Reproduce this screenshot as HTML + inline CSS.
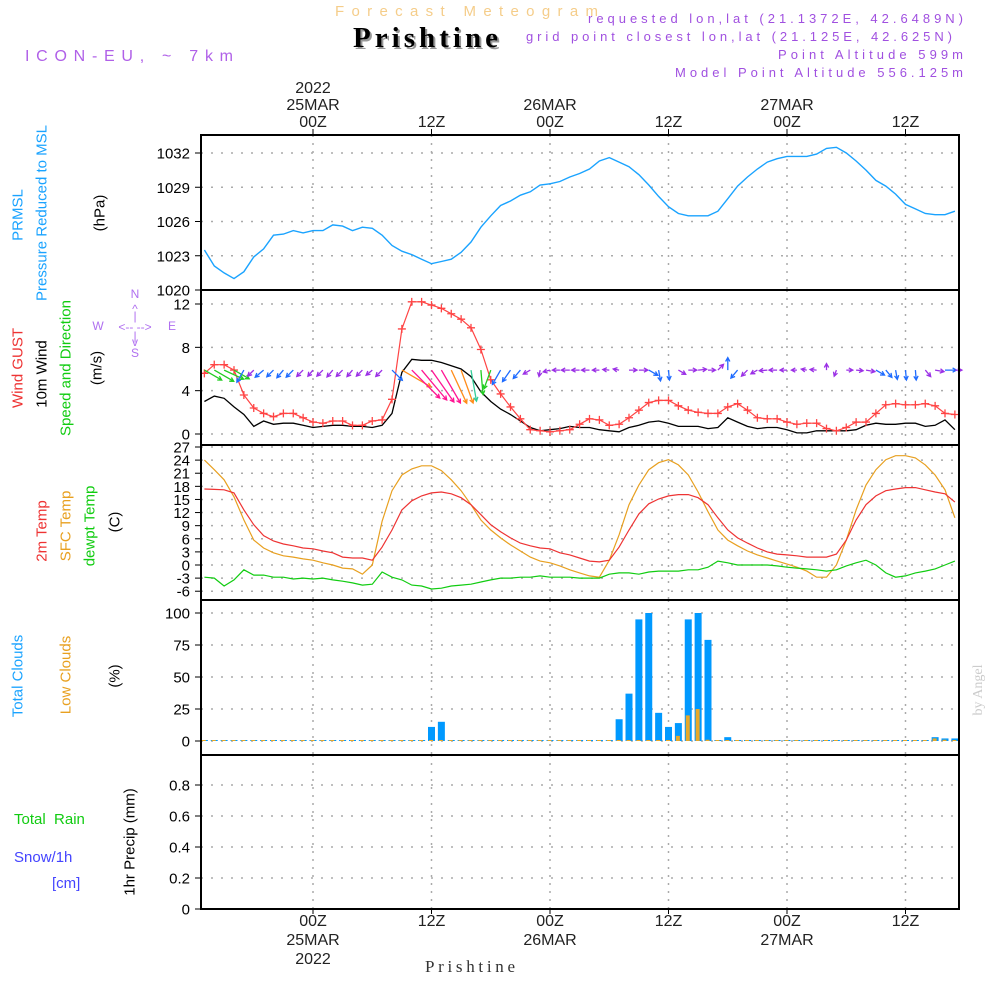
<!DOCTYPE html>
<html><head><meta charset="utf-8"><style>
html,body{margin:0;padding:0;background:#fff;}
svg{display:block;font-family:"Liberation Sans",sans-serif;}
</style></head><body>
<svg id="chart" width="1000" height="1000" viewBox="0 0 1000 1000" xmlns="http://www.w3.org/2000/svg">
<rect x="0" y="0" width="1000" height="1000" fill="#fff"/>
<text x="335" y="16" font-size="15" fill="#f5cd8a" textLength="263" lengthAdjust="spacing">Forecast Meteogram</text>
<text x="355" y="49" font-size="29" font-weight="bold" font-family="Liberation Serif, serif" fill="#999" textLength="145" lengthAdjust="spacing">Prishtine</text>
<text x="353" y="47" font-size="29" font-weight="bold" font-family="Liberation Serif, serif" fill="#000" textLength="145" lengthAdjust="spacing">Prishtine</text>
<text x="25" y="61" font-size="16" fill="#b060e8" textLength="208" lengthAdjust="spacing">ICON-EU, ~ 7km</text>
<text x="588" y="23" font-size="13" fill="#a050e0" textLength="375" lengthAdjust="spacing">requested lon,lat (21.1372E, 42.6489N)</text>
<text x="526" y="41" font-size="13" fill="#a050e0" textLength="426" lengthAdjust="spacing">grid point closest lon,lat (21.125E, 42.625N)</text>
<text x="778" y="59" font-size="13" fill="#a050e0" textLength="185" lengthAdjust="spacing">Point Altitude 599m</text>
<text x="675" y="77" font-size="13" fill="#a050e0" textLength="288" lengthAdjust="spacing">Model Point Altitude 556.125m</text>
<g id="grid"></g>
<g id="marks"></g>
<g id="frames"></g>
<g id="labels" font-size="15"></g>
<text transform="translate(982,690) rotate(-90)" text-anchor="middle" font-size="14" font-family="Liberation Serif, serif" fill="#ccc">by Angel</text>
<text x="425" y="972" font-size="17" font-family="Liberation Serif, serif" fill="#333" textLength="90" lengthAdjust="spacing">Prishtine</text>
</svg>
<script>
// ---- data (hourly, from 24MAR 13Z = hour -11 to 27MAR 17Z = hour 65) ----
const startHour = -11;
const pressure = [1023.5,1022.1,1021.5,1021,1021.6,1022.9,1023.6,1024.8,1024.9,1025.2,1025,1025.2,1025.2,1025.7,1025.6,1025.2,1025.5,1025.4,1024.8,1023.9,1023.4,1023.1,1022.7,1022.3,1022.5,1022.7,1023.3,1024.2,1025.5,1026.5,1027.4,1027.8,1028.3,1028.6,1029.2,1029.3,1029.5,1029.9,1030.2,1030.6,1031.3,1031.6,1031.2,1030.8,1030.1,1029.2,1028.2,1027.3,1026.7,1026.5,1026.5,1026.5,1026.9,1028,1029.1,1029.9,1030.6,1031.2,1031.5,1031.7,1031.7,1031.7,1031.9,1032.4,1032.5,1032,1031.3,1030.5,1029.6,1029.1,1028.4,1027.5,1027.1,1026.7,1026.6,1026.6,1026.9];
const gust = [5.6,6.4,6.4,5.9,3.6,2.4,1.9,1.6,1.9,1.9,1.5,1.1,1.0,1.2,1.2,0.8,0.8,1.2,1.3,3.2,9.7,12.2,12.2,11.9,11.6,11.1,10.6,9.8,7.8,5.0,3.7,2.5,1.4,0.4,0.3,0.2,0.3,0.4,0.9,1.4,1.3,0.8,0.9,1.5,2.2,2.9,3.1,3.1,2.6,2.2,2.0,1.9,1.9,2.5,2.8,2.2,1.5,1.4,1.4,1.1,0.9,1.0,1.0,0.5,0.3,0.6,1.1,1.1,1.9,2.7,2.8,2.7,2.7,2.8,2.6,1.9,1.8];
const wind = [3.0,3.5,3.3,2.5,1.8,0.7,1.2,0.9,1.0,1.0,0.8,0.6,0.7,0.8,0.8,0.7,0.7,0.6,0.8,1.9,5.7,6.9,6.8,6.8,6.6,6.3,6.0,5.3,3.9,3.0,2.3,1.8,1.2,0.6,0.3,0.4,0.5,0.7,0.6,0.6,0.4,0.3,0.2,0.6,0.8,1.1,1.2,1.0,0.7,0.7,0.7,0.5,0.6,1.5,1.1,0.7,0.5,0.6,0.6,0.4,0.1,0.1,0.3,0.3,0.3,0.3,0.4,0.8,1.0,0.9,0.9,1.0,1.0,0.7,0.8,1.3,0.4];
const windDir = [300,300,295,300,30,45,50,45,40,45,45,40,45,40,45,40,45,50,45,315,300,315,320,325,330,335,340,350,355,20,30,35,40,60,10,75,90,90,90,90,90,95,100,270,270,300,350,355,300,270,265,270,225,180,40,45,60,85,90,90,90,100,95,180,20,270,275,280,300,320,350,355,355,320,280,270,270];
const temp2m = [17.4,17.3,17.2,16.5,12.6,9.2,6.7,5.5,4.8,4.4,3.9,3.7,3.2,2.8,1.8,1.6,1.6,1.1,4.1,8,12.6,14.7,15.8,16.5,16.7,16.3,15.4,13.8,11.5,9.2,7.6,6.2,5,4.4,3.9,3.7,2.8,2.3,1.6,0.9,0.7,1.1,4.1,8,11.7,14,15.1,15.8,16.1,16.1,15.4,13.8,10.8,8,6.2,5,3.9,3,2.5,2.3,2.1,1.8,1.8,1.8,2.5,5.7,10.3,13.8,15.8,17,17.4,17.7,17.7,17.2,16.7,16.3,14.4];
const tempSfc = [24,21.8,19.5,15.6,10.3,5.7,3.9,2.8,2.1,1.8,1.4,1.1,0.5,0,-0.7,-0.9,-2.1,0,10,17,20.6,22,22.7,22.7,21.6,19.5,17,13.8,10.3,8,6.2,4.6,3.2,1.8,0.9,0.5,-0.2,-1.1,-1.8,-2.5,-2.8,1.1,6.9,13.8,18.3,21.8,23.4,24.1,22.9,20.6,16.7,12.2,8,5.7,4.4,3.2,2.3,1.6,0.9,0.2,-0.5,-1.4,-2.8,-2.8,0,5.7,12.6,18.3,21.8,24.1,25,25,24.5,22.9,20.6,17.2,10.8];
const dewpt = [-2.8,-3,-4.8,-3.4,-1.1,-2.3,-2.3,-2.8,-2.8,-3.2,-3,-3.2,-3,-3.4,-3.7,-4.1,-4.6,-4.4,-1.6,-2.8,-3.4,-4.6,-4.8,-5.5,-5.3,-4.8,-4.6,-4.4,-3.9,-3.4,-3,-3,-2.8,-2.8,-2.5,-2.8,-2.8,-2.8,-3,-3,-3,-2.1,-1.8,-1.8,-2.1,-1.6,-1.4,-1.4,-1.4,-1.1,-1.1,-0.5,0.9,0.5,0,0,0,0,-0.2,-0.5,-0.7,-0.9,-1.1,-1.4,-1.1,-0.2,0.5,1.1,0,-1.8,-2.8,-2.5,-1.8,-1.4,-0.9,0,0.9];
const totalClouds = [0,0,0,0,0,0,0,0,0,0,0,0,0,0,0,0,0,0,0,0,0,0,0,11,15,0,0,0,0,0,0,0,0,0,0,0,0,0,0,0,0,0,17,37,95,100,22,11,14,95,100,79,0,3,0,0,0,0,0,0,0,0,0,0,0,0,0,0,0,0,0,0,0,0,3,2,2];
const lowClouds = [0,0,0,0,0,0,0,0,0,0,0,0,0,0,0,0,0,0,0,0,0,0,0,0,0,0,0,0,0,0,0,0,0,0,0,0,0,0,0,0,0,0,0,0,0,0,0,0,4,20,25,1,0,0,0,0,0,0,0,0,0,0,0,0,0,0,0,0,0,0,0,0,0,0,2,1,0];
const precip = new Array(77).fill(0);
const pressTicks = [1020,1023,1026,1029,1032];
const windTicks = [0,4,8,12];
const tempTicks = [-6,-3,0,3,6,9,12,15,18,21,24,27];
const tempTickLabels = ["-6","-3","0","3","6","9","12","15","18","21","24","27"];
const cloudTicks = [0,25,50,75,100];
const precipTicks = [0,0.2,0.4,0.6,0.8];
const timeTicks = [0,12,24,36,48,60];
const timeTop = [["2022","25MAR","00Z"],["","","12Z"],["","26MAR","00Z"],["","","12Z"],["","27MAR","00Z"],["","","12Z"]];
const timeBottom = [["00Z","25MAR","2022"],["12Z","",""],["00Z","26MAR",""],["12Z","",""],["00Z","27MAR",""],["12Z","",""]];

// ---- scales ----
const X0=201, X1=959;
const xh = h => 313 + h*9.875;
const lin = (d0,d1,r0,r1) => v => r0 + (v-d0)*(r1-r0)/(d1-d0);
const panels = [
 {top:135,bot:290,y:lin(1020,1032,290,153)},
 {top:290,bot:445,y:lin(0,12,434,304)},
 {top:445,bot:600,y:lin(0,27,565,447)},
 {top:600,bot:755,y:lin(0,100,741,613)},
 {top:755,bot:909,y:lin(0,1,909,754)}
];
const NS="http://www.w3.org/2000/svg";
function mk(parent,tag,attrs){const e=document.createElementNS(NS,tag);for(const k in attrs)e.setAttribute(k,attrs[k]);parent.appendChild(e);return e;}
const gGrid=document.getElementById('grid'), gMarks=document.getElementById('marks'), gFr=document.getElementById('frames'), gLab=document.getElementById('labels');

panels.forEach((p,pi)=>{
 timeTicks.forEach(t=>{const l=mk(gGrid,'line',{x1:xh(t),x2:xh(t),y1:p.top,y2:p.bot,stroke:'#aaa','stroke-width':1.5,'stroke-dasharray':'2,6'});
  
  });
});
function hgrid(pi,ticks,labels){
 const p=panels[pi];
 ticks.forEach((t,i)=>{const y=p.y(t);
  const l=mk(gGrid,'line',{x1:X0,x2:X1,y1:y,y2:y,stroke:'#aaa','stroke-width':1.5,'stroke-dasharray':'2,8'});
  
  
  mk(gGrid,'line',{x1:X0-6,x2:X0,y1:y,y2:y,stroke:'#000','stroke-width':1});
  const tx=mk(gLab,'text',{x:190,y:y+5.5,'text-anchor':'end',fill:'#000'});
  tx.textContent=labels?labels[i]:String(t);
  
  
 });
}
hgrid(0,pressTicks);
hgrid(1,windTicks);
hgrid(2,tempTicks,tempTickLabels);
hgrid(3,cloudTicks);
hgrid(4,precipTicks,precipTicks.map(v=>v===0?"0":v.toFixed(1)));

function line(pi,arr,color,name,w){
 const p=panels[pi];
 const d=arr.map((v,i)=>(i?'L':'M')+xh(startHour+i).toFixed(1)+','+p.y(v).toFixed(1)).join('');
 const e=mk(gMarks,'path',{d:d,fill:'none',stroke:color,'stroke-width':w||1.2});
 
 
 return e;
}
line(0,pressure,'#1aa3ff','pressure-line',1.4);
line(1,wind,'#000','wind-speed-line',1.3);
line(1,gust,'#ff4444','wind-gust-line',1.2);
gust.forEach((v,i)=>{const x=xh(startHour+i),y=panels[1].y(v);
 const c=mk(gMarks,'path',{d:`M${x-4},${y}H${x+4}M${x},${y-4}V${y+4}`,stroke:'#ff4444','stroke-width':1.3});
 
 
});
function arrowColor(s){if(s>=6.5)return'#ff1493';if(s>=5.5)return'#ff8c1a';if(s>=4)return'#33cc99';if(s>=2.5)return'#22cc22';if(s>=0.9)return'#1e6bff';return'#9b30e6';}
windDir.forEach((d,i)=>{
 const s=wind[i];const to=(d+180)*Math.PI/180;
 const L=5+s*5;
 const x0=xh(startHour+i), y0=panels[1].y(5.9);
 const dx=Math.sin(to)*L, dy=-Math.cos(to)*L;
 const x1=x0+dx,y1=y0+dy;const a=Math.atan2(dy,dx);
 const hl=4.5;
 const c=arrowColor(s);
 const e=mk(gMarks,'path',{d:`M${x0.toFixed(1)},${y0.toFixed(1)}L${x1.toFixed(1)},${y1.toFixed(1)}M${(x1-hl*Math.cos(a-0.5)).toFixed(1)},${(y1-hl*Math.sin(a-0.5)).toFixed(1)}L${x1.toFixed(1)},${y1.toFixed(1)}L${(x1-hl*Math.cos(a+0.5)).toFixed(1)},${(y1-hl*Math.sin(a+0.5)).toFixed(1)}`,fill:'none',stroke:c,'stroke-width':1.3});
 
 
});
line(2,tempSfc,'#e8a020','sfc-temp-line',1.2);
line(2,temp2m,'#ee3333','temp-2m-line',1.2);
line(2,dewpt,'#11cc11','dewpt-line',1.2);
totalClouds.forEach((v,i)=>{const x=xh(startHour+i),p=panels[3];const y=p.y(v);
 const r=mk(gMarks,'rect',{x:x-3.5,y:Math.min(y,p.y(0)-1),width:7,height:Math.max(p.y(0)-y,1),fill:'#0099ff'});
 
 
});
lowClouds.forEach((v,i)=>{const x=xh(startHour+i),p=panels[3];const y=p.y(v);
 const r=mk(gMarks,'rect',{x:x-2.5,y:Math.min(y,p.y(0)-1),width:4,height:Math.max(p.y(0)-y,1),fill:'#e8a828'});
 
 
});
precip.forEach((v,i)=>{const x=xh(startHour+i),p=panels[4];const y=p.y(v);
 const r=mk(gMarks,'rect',{x:x-3.5,y:Math.min(y,p.y(0)-1),width:7,height:Math.max(p.y(0)-y,1),fill:'#333'});
 
 
});
panels.forEach(p=>{const r=mk(gFr,'rect',{x:X0,y:p.top,width:X1-X0,height:p.bot-p.top,fill:'none',stroke:'#000','stroke-width':2});
 
 });
timeTicks.forEach((t,i)=>{const x=xh(t);
 mk(gFr,'line',{x1:x,x2:x,y1:129,y2:135,stroke:'#000'});
 mk(gFr,'line',{x1:x,x2:x,y1:909,y2:914,stroke:'#000'});
 timeTop[i].forEach((s,j)=>{if(!s)return;const tx=mk(gLab,'text',{x:x,y:93+j*17,'text-anchor':'middle',fill:'#222','font-size':16});tx.textContent=s;
  
  });
 timeBottom[i].forEach((s,j)=>{if(!s)return;const tx=mk(gLab,'text',{x:x,y:926+j*19,'text-anchor':'middle',fill:'#222','font-size':16});tx.textContent=s;
  
  });
});
const vlabels=[
 ['PRMSL',18,215,'#1aa3ff','prmsl-label'],
 ['Pressure Reduced to MSL',42,213,'#1aa3ff','pressure-title'],
 ['(hPa)',100,213,'#000','pressure-unit'],
 ['Wind GUST',18,368,'#ee3333','gust-title'],
 ['10m Wind',42,374,'#000','wind-title'],
 ['Speed and Direction',66,368,'#11cc11','wind-dir-title'],
 ['(m/s)',97,368,'#000','wind-unit'],
 ['2m Temp',42,531,'#ee3333','temp2m-title'],
 ['SFC Temp',66,526,'#e8a020','sfc-temp-title'],
 ['dewpt Temp',90,526,'#11cc11','dewpt-title'],
 ['(C)',115,522,'#000','temp-unit'],
 ['Total Clouds',18,676,'#1aa3ff','total-clouds-title'],
 ['Low Clouds',66,675,'#e8a020','low-clouds-title'],
 ['(%)',115,676,'#000','cloud-unit'],
 ['1hr Precip (mm)',130,842,'#000','precip-title']
];
vlabels.forEach(v=>{const t=mk(gLab,'text',{transform:`translate(${v[1]},${v[2]}) rotate(-90)`,'text-anchor':'middle','dominant-baseline':'central',fill:v[3]});t.textContent=v[0];
 
 });
const hl=[['Total  Rain',14,824,'#11cc11','rain-label'],['Snow/1h',14,862,'#4444ff','snow-label'],['[cm]',52,888,'#4444ff','snow-unit']];
hl.forEach(v=>{const t=mk(gLab,'text',{x:v[1],y:v[2],fill:v[3]});t.textContent=v[0];t.style.whiteSpace='pre';
 
 });
const cp=mk(gLab,'g',{fill:'#b070f0','font-size':12,'text-anchor':'middle'});


[['N',135,298],['S',135,357],['W',98,330],['E',172,330],['<-- -->',135,331],['^',135,313],['v',135,346],['|',135,320],['|',135,340]].forEach(c=>{const t=mk(cp,'text',{x:c[1],y:c[2]});t.textContent=c[0];t.style.whiteSpace='pre';});
mk(gFr,'line',{x1:X0,x2:X1,y1:909,y2:909,stroke:'#000','stroke-width':1.5,'stroke-dasharray':'6,3'});
</script>
</body></html>
